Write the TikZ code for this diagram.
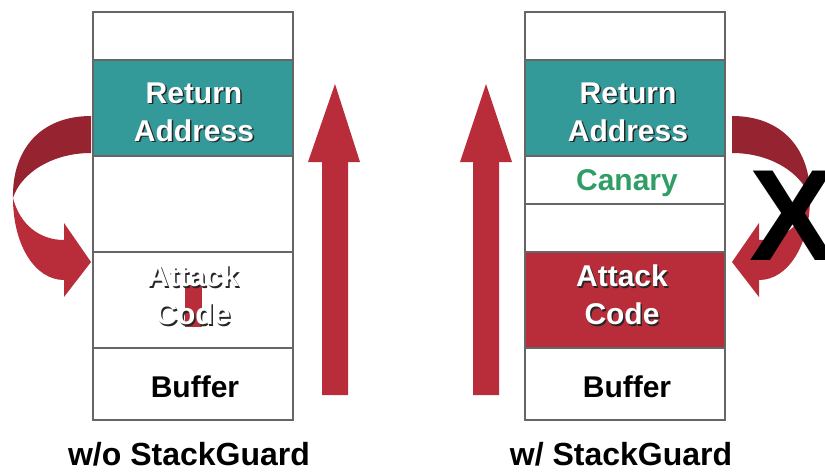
\documentclass[tikz,border=0pt]{standalone}
\usepackage{fontspec}
\setmainfont{Liberation Sans}
\definecolor{tealc}{HTML}{339999}
\definecolor{redc}{HTML}{B92D3B}
\definecolor{darkredc}{HTML}{952330}
\definecolor{greenc}{HTML}{2F9E66}
\definecolor{linec}{HTML}{666666}
\tikzset{
  row/.style={draw=linec, line width=1.2pt, minimum width=200pt, inner sep=0pt, outer sep=0pt},
  lbl/.style={font=\fontsize{30}{38}\selectfont\bfseries, align=center, inner sep=0pt},
  captxt/.style={font=\fontsize{32}{38}\selectfont\bfseries, inner sep=0pt, anchor=base},
  ribbon/.style={fill=redc, draw=none},
  ribbondark/.style={fill=darkredc, draw=none},
}
\newcommand\shadowlabel[4]{%
  \node[lbl,text=black!85] (#1s) at ({#2+1.5},{#3+1.5}) {#4};
  \node[lbl,text=white] (#1) at (#2,#3) {#4};}
\begin{document}
\begin{tikzpicture}[x=1pt,y=-1pt]
\useasboundingbox (0,0) rectangle (825,472);
% ---------- left stack ----------
\node[row, minimum height=48pt] (L1) at (193,36) {};
\node[row, minimum height=96pt, fill=tealc] (L2) at (193,108) {};
\node[row, minimum height=96pt] (L3) at (193,204) {};
\node[row, minimum height=96pt] (L4) at (193,300) {};
\node[row, minimum height=72pt] (L5) at (193,384) {};
\shadowlabel{tRA}{194}{112}{Return\\Address}
\fill[redc] (185,285) rectangle (202,327);
\shadowlabel{tAC}{193}{295}{Attack\\Code}
\node[lbl] (tBL) at (195,387) {Buffer};
% ---------- right stack ----------
\node[row, minimum height=48pt] (R1) at (625,36) {};
\node[row, minimum height=96pt, fill=tealc] (R2) at (625,108) {};
\node[row, minimum height=48pt] (R3) at (625,180) {};
\node[row, minimum height=48pt] (R4) at (625,228) {};
\node[row, minimum height=96pt, fill=redc] (R5) at (625,300) {};
\node[row, minimum height=72pt] (R6) at (625,384) {};
\shadowlabel{tRA2}{628}{112}{Return\\Address}
\node[lbl, text=greenc] (tCN) at (627,183) {Canary};
\shadowlabel{tAC2}{622}{295}{Attack\\Code}
\node[lbl] (tBR) at (627,387) {Buffer};
% ---------- up arrows ----------
\fill[redc] (322,395) -- (322,162) -- (308,162) -- (335,84) -- (360,162) -- (348,162) -- (348,395) -- cycle;
\fill[redc] (473,395) -- (473,162) -- (460,162) -- (486,84) -- (512,162) -- (499,162) -- (499,395) -- cycle;
% ---------- left curved arrow ----------
\fill[ribbon] (13,198) .. controls (13,245) and (35,280) .. (64,280) -- (64,297) -- (91,262) -- (64,223) -- (64,240) .. controls (40,240) and (20,225) .. (13,198) -- cycle;
\fill[ribbondark] (91,116) .. controls (40,116) and (12,150) .. (13,198) .. controls (20,175) and (50,153) .. (91,153) -- cycle;
% ---------- right curved arrow ----------
\begin{scope}[shift={(823,0)}, xscale=-1]
\fill[ribbon] (13,198) .. controls (13,245) and (35,280) .. (64,280) -- (64,297) -- (91,262) -- (64,223) -- (64,240) .. controls (40,240) and (20,225) .. (13,198) -- cycle;
\fill[ribbondark] (91,116) .. controls (40,116) and (12,150) .. (13,198) .. controls (20,175) and (50,153) .. (91,153) -- cycle;
\end{scope}
\node[font=\fontsize{130}{130}\selectfont\bfseries, inner sep=0pt, anchor=base] (X) at (793,260) {X};
% ---------- captions ----------
\node[captxt] (c1) at (189,465) {w/o StackGuard};
\node[captxt] (c2) at (621,465) {w/ StackGuard};
\end{tikzpicture}
\end{document}
